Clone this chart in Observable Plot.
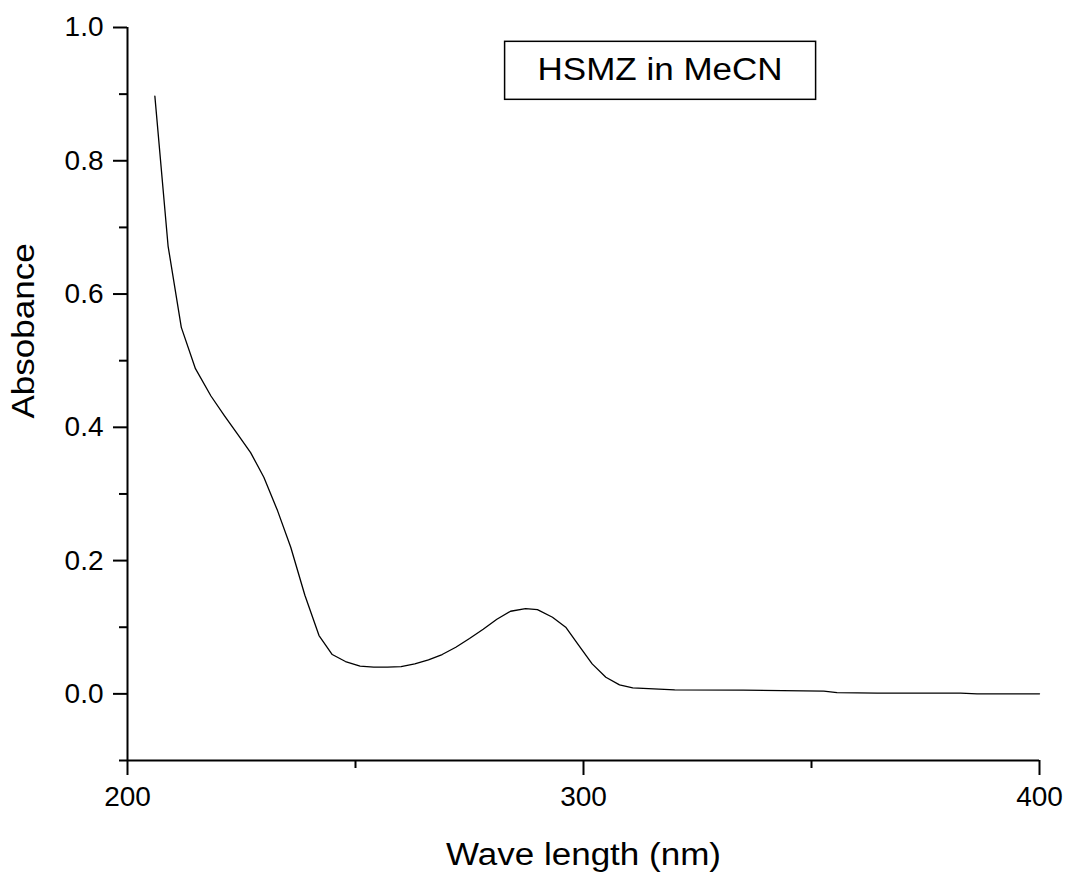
<!DOCTYPE html>
<html>
<head>
<meta charset="utf-8">
<script src="https://cdn.jsdelivr.net/npm/d3@7"></script>
<script src="https://cdn.jsdelivr.net/npm/@observablehq/plot@0.6"></script>
<style>
  html, body { margin: 0; padding: 0; background: #fff; }
  #chart svg { display: block; }
</style>
</head>
<body>
<div id="chart"></div>
<script>
const wavelength = [206.0, 208.9, 211.8, 214.9, 218.3, 221.2, 224.1, 227.0, 229.9, 232.9, 235.8, 238.9,
  242.0, 244.9, 247.8, 251.0, 254.0, 257.0, 260.0, 263.0, 266.0, 269.0, 272.0, 275.0, 278.0, 281.0,
  284.0, 287.3, 289.9, 293.2, 296.1, 299.0, 301.9, 304.9, 307.9, 310.8, 320.0, 335.0, 352.7, 355.6,
  364.4, 382.7, 386.3, 400.0];
const absorbance = [0.897, 0.672, 0.550, 0.488, 0.447, 0.418, 0.390, 0.362, 0.325, 0.275, 0.220, 0.148,
  0.0875, 0.059, 0.0485, 0.0415, 0.040, 0.040, 0.041, 0.045, 0.051, 0.059, 0.070, 0.083, 0.097, 0.112,
  0.124, 0.128, 0.1265, 0.115, 0.100, 0.0725, 0.045, 0.025, 0.0135, 0.009, 0.006, 0.0055, 0.004, 0.002,
  0.001, 0.001, 0.0, 0.0];

const xMajor = [200, 300, 400];
const xMinor = [250, 350];
const yMajor = [0.0, 0.2, 0.4, 0.6, 0.8, 1.0];
const yMinor = [-0.1, 0.1, 0.3, 0.5, 0.7, 0.9];
const xDomain = [200, 400];
const yDomain = [-0.1, 1.0];
const xTitle = "Wave length (nm)";
const yTitle = "Absobance";
const legendText = "HSMZ in MeCN";

const data = wavelength.map((w, i) => ({w, a: absorbance[i]}));
const font = "'Liberation Sans', Arial, sans-serif";

const chart = Plot.plot({
  width: 1068,
  height: 876,
  marginLeft: 127,
  marginRight: 29,
  marginTop: 27,
  marginBottom: 116,
  style: {fontFamily: font, color: "#000", background: "#fff"},
  x: {domain: xDomain},
  y: {domain: yDomain},
  marks: [
    Plot.axisX(xMajor, {tickSize: 15, tickPadding: 11, strokeWidth: 2, fontSize: 28, label: null, tickFormat: d3.format("d")}),
    Plot.axisX(xMinor, {tickSize: 8, strokeWidth: 2, tickFormat: () => "", label: null}),
    Plot.axisY(yMajor, {tickSize: 14, tickPadding: 10, strokeWidth: 2, fontSize: 28, label: null, tickFormat: d3.format(".1f")}),
    Plot.axisY(yMinor, {tickSize: 8, strokeWidth: 2, tickFormat: () => "", label: null}),
    Plot.ruleX([xDomain[0]], {strokeWidth: 2}),
    Plot.ruleY([yDomain[0]], {strokeWidth: 2}),
    Plot.line(data, {x: "w", y: "a", stroke: "#000", strokeWidth: 1.3}),
    Plot.text([xTitle], {frameAnchor: "bottom", lineAnchor: "bottom", dy: 104, fontSize: 31, fill: "#000", text: d => d}),
    Plot.text([yTitle], {frameAnchor: "left", lineAnchor: "bottom", rotate: -90, dx: -93.5, dy: 24.5, fontSize: 31, fill: "#000", text: d => d}),
    Plot.text([legendText], {frameAnchor: "top", lineAnchor: "bottom", dx: 76.6, dy: 52.6, fontSize: 31, fill: "#000", text: d => d})
  ]
});

document.getElementById("chart").appendChild(chart);

const svg = d3.select(chart);
// axis strokes
svg.selectAll("g[aria-label$='tick'] path, g[aria-label$='tick'] line, g[aria-label='rule'] line")
  .attr("stroke-width", 2);

// the reference's large texts are set in a slightly wider face: stretch along the reading direction
svg.selectAll("text").each(function() {
  const t = this.textContent;
  if (t === xTitle || t === yTitle || t === legendText) {
    const tr = this.getAttribute("transform") || "";
    this.setAttribute("transform", tr + " scale(1.13,1)");
  }
});

// box around the legend text
const lt = svg.selectAll("text").filter(function() { return this.textContent === legendText; }).node();
if (lt) {
  const b = lt.getBoundingClientRect();
  const s = chart.getBoundingClientRect();
  const cx = b.left - s.left + b.width / 2;
  const baseline = b.top - s.top + b.height * 0.0; // placeholder
  const boxW = 311, boxH = 58;
  const textMid = b.top - s.top + b.height / 2;
  svg.append("rect")
    .attr("x", cx - boxW / 2)
    .attr("y", textMid - boxH / 2 + 1)
    .attr("width", boxW)
    .attr("height", boxH)
    .attr("fill", "none")
    .attr("stroke", "#000")
    .attr("stroke-width", 1.5);
}
</script>
</body>
</html>
